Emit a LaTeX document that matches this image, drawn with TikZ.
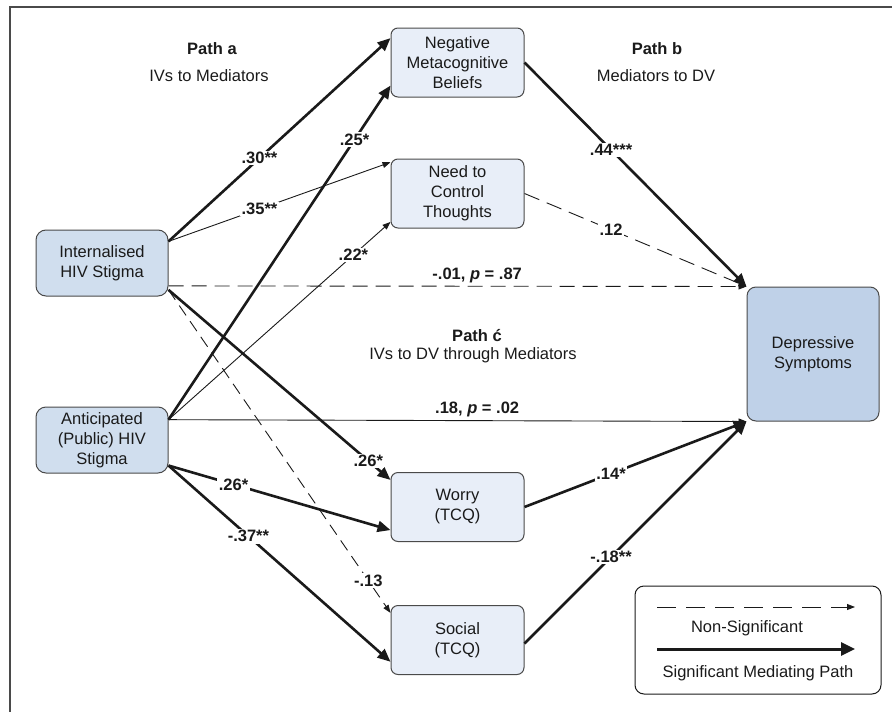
\documentclass[tikz,border=0pt]{standalone}
\usepackage{fontspec}
\setmainfont{Liberation Sans}
\usetikzlibrary{arrows.meta}
\definecolor{medfill}{HTML}{E8EEF8}
\definecolor{ivfill}{HTML}{D0DEEE}
\definecolor{dvfill}{HTML}{BFD1E8}
\definecolor{boxline}{HTML}{4A4A4A}
\definecolor{ink}{HTML}{1A1A1A}
\newcommand{\basesz}{\fontsize{16.5}{20}\selectfont}
\begin{document}
\begin{tikzpicture}[x=1pt,y=-1pt,
  font=\basesz, text=ink,
  box/.style={draw=boxline, line width=1pt, rounded corners=7pt, align=center, inner sep=2pt},
  med/.style={box, fill=medfill, minimum width=133pt, minimum height=69pt},
  iv/.style={box, fill=ivfill, minimum width=132pt, minimum height=66pt, rounded corners=10pt},
  dv/.style={box, fill=dvfill, minimum width=132pt, minimum height=134pt, rounded corners=9pt},
  sig/.style={draw=ink, line width=2.6pt, -{Triangle[length=13pt,width=11pt]}},
  thinarr/.style={draw=ink, line width=0.9pt, -{Triangle[length=8pt,width=6pt]}},
  ns/.style={thinarr, dash pattern=on 14pt off 8pt},
  lab/.style={fill=white, font=\basesz\bfseries, inner sep=1.5pt},
  hlab/.style={above, font=\basesz\bfseries, inner sep=3pt},
  head/.style={font=\basesz\bfseries}
]
\useasboundingbox (0,0) rectangle (892,712);
\draw[boxline, line width=1.2pt] (10,712) -- (10,7) -- (892,7);

% headings
\node[head] (pa) at (212,49) {Path a};
\node (pat) at (209,76) {IVs to Mediators};
\node[head] (pb) at (657,49) {Path b};
\node (pbt) at (656,76) {Mediators to DV};
\node[head] (pc) at (477,336) {Path ć};
\node (pct) at (473,355) {IVs to DV through Mediators};

% nodes
\node[iv] (int) at (102,263) {Internalised\\HIV Stigma};
\node[iv] (ant) at (102,440) {Anticipated\\(Public) HIV\\Stigma};
\node[med] (nm) at (457.5,62.5) {Negative\\Metacognitive\\Beliefs};
\node[med] (nc) at (457.5,193.5) {Need to\\Control\\Thoughts};
\node[med] (wo) at (457.5,507) {Worry\\(TCQ)};
\node[med] (so) at (457.5,640) {Social\\(TCQ)};
\node[dv] (dep) at (813,354) {Depressive\\Symptoms};

% direct paths
\draw[ns, dash pattern=on 15pt off 8pt] (int.-19) -- (dep.north west)
  node[pos=0.534, hlab] {-.01, \textit{p} = .87};
\draw[thinarr] (ant.17) -- (dep.south west)
  node[pos=0.534, hlab] {.18, \textit{p} = .02};

% path a
\draw[ns, dash pattern=on 12pt off 7pt] (int.-22) -- (so.158) node[lab, pos=0.9] {-.13};
\draw[thinarr] (int.18) -- (nc.155) node[lab, pos=0.41] {.35**};
\draw[thinarr] (ant.17) -- (nc.203) node[lab, pos=0.833] {.22*};
\draw[sig] (int.18) -- (nm.160) node[lab, pos=0.41] {.30**};
\draw[sig] (ant.17) -- (nm.199) node[lab, pos=0.838] {.25*};
\draw[sig] (int.-22) -- (wo.158) node[lab, pos=0.9] {.26*};
\draw[sig] (ant.-21) -- (wo.199) node[lab, pos=0.293] {.26*};
\draw[sig] (ant.-21) -- (so.198) node[lab, pos=0.36] {-.37**};

% path b
\draw[ns, dash pattern=on 16pt off 8pt] (nc.east) -- (dep.north west) node[lab, pos=0.39] {.12};
\draw[sig] (nm.east) -- (dep.north west) node[lab, pos=0.39] {.44***};
\draw[sig] (wo.east) -- (dep.south west) node[lab, pos=0.39] {.14*};
\draw[sig] (so.-3) -- (dep.south west) node[lab, pos=0.39] {-.18**};

% legend
\node[draw=ink, line width=1pt, rounded corners=9pt, minimum width=246pt, minimum height=108pt] (leg) at (758,640) {};
\coordinate (l1a) at (657,607);
\coordinate (l1b) at (855,607);
\coordinate (l2a) at (657,649);
\coordinate (l2b) at (855,649);
\draw[draw=ink, line width=0.9pt, dash pattern=on 19pt off 10pt, -{Triangle[length=8pt,width=6pt]}] (l1a) -- (l1b);
\draw[draw=ink, line width=3pt, -{Triangle[length=14pt,width=13pt]}] (l2a) -- (l2b);
\node (ln) at (747,628) {Non-Significant};
\node (ls) at (758,673) {Significant Mediating Path};
\end{tikzpicture}
\end{document}
